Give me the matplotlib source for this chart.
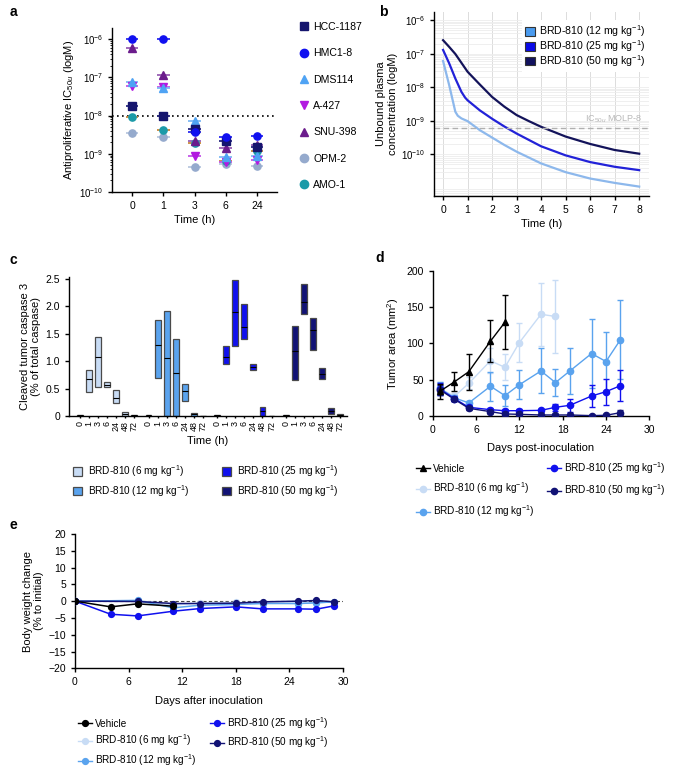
import numpy as np
import matplotlib
matplotlib.use("Agg")
import matplotlib.pyplot as plt
from matplotlib.lines import Line2D
from matplotlib.patches import Patch
from matplotlib.ticker import LogLocator, NullFormatter, FixedLocator

plt.rcParams['font.family'] = ['Liberation Sans', 'DejaVu Sans']
plt.rcParams['mathtext.fontset'] = 'custom'
plt.rcParams['mathtext.rm'] = 'Liberation Sans'
plt.rcParams['mathtext.it'] = 'Liberation Sans:italic'
plt.rcParams['mathtext.bf'] = 'Liberation Sans:bold'
plt.rcParams['font.size'] = 7.5
plt.rcParams['xtick.labelsize'] = 7.5
plt.rcParams['ytick.labelsize'] = 7.5
plt.rcParams['axes.linewidth'] = 1.0
plt.rcParams['xtick.major.width'] = 1.0
plt.rcParams['ytick.major.width'] = 1.0
plt.rcParams['xtick.major.size'] = 3
plt.rcParams['ytick.major.size'] = 3

# ---------------- Panel a data ----------------
a_times = ['0', '1', '3', '6', '24']
a_lines = ['HCC-1187', 'HMC1-8', 'DMS114', 'A-427', 'SNU-398', 'OPM-2', 'AMO-1']
a_hcc1187 = [1.8e-8, 1.0e-8, 4.5e-9, 2.2e-9, 1.5e-9]
a_hmc18 = [1.0e-6, 1.0e-6, 3.8e-9, 2.8e-9, 3.0e-9]
a_dms114 = [7.5e-8, 5.4e-8, 7.2e-9, 8.1e-10, 9.0e-10]
a_a427 = [5.8e-8, 5.5e-8, 8.9e-10, 6.0e-10, 6.7e-10]
a_snu398 = [6.0e-7, 1.15e-7, 2.2e-9, 1.4e-9, 1.65e-9]
a_opm2 = [3.4e-9, 2.7e-9, 4.4e-10, 5.5e-10, 4.7e-10]
a_amo1 = [9.1e-9, 4.3e-9, 1.9e-9, 6.5e-10, 1.15e-9]
a_threshold = 1e-8

# ---------------- Panel b data ----------------
b_t12 = [0, 0.25, 0.5, 0.6, 0.75, 1, 1.5, 2, 2.5, 3, 4, 5, 6, 7, 8]
b_log12 = [-7.22, -7.94, -8.73, -8.85, -8.93, -9.01, -9.28, -9.50, -9.72, -9.92,
           -10.27, -10.53, -10.72, -10.85, -10.96]
b_t25 = [0, 0.25, 0.5, 0.75, 0.9, 1, 1.5, 2, 2.5, 3, 4, 5, 6, 7, 8]
b_log25 = [-6.89, -7.29, -7.74, -8.14, -8.31, -8.39, -8.69, -8.94, -9.17, -9.38,
           -9.76, -10.03, -10.23, -10.37, -10.47]
b_t50 = [0, 0.25, 0.5, 1, 1.5, 2, 2.5, 3, 3.5, 4, 5, 6, 7, 8]
b_log50 = [-6.60, -6.80, -7.01, -7.54, -7.92, -8.29, -8.58, -8.83, -9.01, -9.18,
           -9.47, -9.69, -9.87, -9.98]
b_ic50_molp8 = 6.2e-10

# ---------------- Panel c data ----------------
c_times = ['0', '1', '3', '6', '24', '48', '72']
c_doses = ['BRD-810 (6 mg kg$^{-1}$)', 'BRD-810 (12 mg kg$^{-1}$)',
           'BRD-810 (25 mg kg$^{-1}$)', 'BRD-810 (50 mg kg$^{-1}$)']
c6_low = [0, 0.43, 0.53, 0.53, 0.23, 0.0, 0.0]
c6_high = [0.025, 0.83, 1.43, 0.61, 0.48, 0.08, 0.02]
c6_med = [0.012, 0.68, 1.07, 0.57, 0.32, 0.04, 0.01]
c12_low = [0, 0.70, 0.0, 0.0, 0.27, 0.0, 0.0]
c12_high = [0.025, 1.75, 1.92, 1.40, 0.59, 0.06, 0.005]
c12_med = [0.012, 1.30, 1.05, 0.79, 0.46, 0.03, 0.003]
c25_low = [0, 0.94, 1.27, 1.40, 0.84, 0.0, 0.0]
c25_high = [0.025, 1.27, 2.47, 2.04, 0.95, 0.165, 0.005]
c25_med = [0.012, 1.07, 1.90, 1.62, 0.89, 0.085, 0.003]
c50_low = [0, 0.65, 1.86, 1.20, 0.67, 0.03, 0.0]
c50_high = [0.025, 1.64, 2.40, 1.78, 0.88, 0.15, 0.035]
c50_med = [0.012, 1.18, 2.08, 1.56, 0.76, 0.09, 0.017]

# ---------------- Panel d data ----------------
d_veh_days = [1, 3, 5, 8, 10]
d_veh = [34, 47, 61, 103, 129]
d_veh_err = [10, 13, 25, 29, 37]
d6_days = [1, 3, 5, 8, 10, 12, 15, 17]
d6 = [38, 27, 45, 76, 67, 101, 140, 137]
d6_err = [9, 4, 8, 17, 18, 27, 43, 50]
d12_days = [1, 3, 5, 8, 10, 12, 15, 17, 19, 22, 24, 26]
d12 = [38, 25, 18, 41, 28, 43, 62, 46, 62, 86, 75, 105]
d12_err = [9, 4, 3, 20, 14, 20, 31, 19, 32, 47, 41, 54]
d25_days = [1, 3, 5, 8, 10, 12, 15, 17, 19, 22, 24, 26]
d25 = [37, 24, 12, 8.7, 7.3, 7.3, 7.8, 12, 14.7, 27.5, 33.5, 41.7]
d25_err = [8, 3, 2, 2, 2, 2, 2, 5, 9, 15, 18, 21]
d50_days = [1, 3, 5, 8, 10, 12, 15, 17, 19, 22, 24, 26]
d50 = [36, 23, 10.6, 6, 2.8, 2.3, 1.4, 1.4, 1.4, 0.5, 1.0, 4.6]
d50_err = [7, 3, 2, 2, 1, 1, 1, 1, 1, 1, 1, 3]

# ---------------- Panel e data ----------------
e_veh_days = [0, 4, 7, 11]
e_veh = [0, -1.7, -0.8, -1.5]
e6_days = [0, 7, 11, 14, 18, 21, 25, 27, 29]
e6 = [0, 0.2, -1.2, -0.5, -0.4, -0.5, -0.7, -0.5, -0.2]
e12_days = [0, 7, 11, 14, 18, 21, 25, 27, 29]
e12 = [0, 0.2, -2.0, -1.2, -1.0, -0.7, -0.7, -0.5, -0.2]
e25_days = [0, 4, 7, 11, 14, 18, 21, 25, 27, 29]
e25 = [0, -3.9, -4.4, -3.0, -2.2, -1.7, -2.3, -2.3, -2.4, -1.4]
e50_days = [0, 7, 11, 14, 18, 21, 25, 27, 29]
e50 = [0, -0.1, -0.7, -0.7, -0.6, -0.2, 0.0, 0.2, -0.2]

# colors
col_hcc = '#15156e'
col_hmc = '#1010f0'
col_dms = '#4fa3f4'
col_a427 = '#b21ae0'
col_snu = '#6b1c8c'
col_opm = '#95aacd'
col_amo = '#1b9aa8'
col6 = '#c8dcf5'
col12 = '#5aa3ee'
col25 = '#1010ee'
col50 = '#111275'

W, H = 679, 772
fig = plt.figure(figsize=(W / 100, H / 100), dpi=100)
LAB = 8
LEG = 7.2


def ax_px(l, t, r, b):
    return fig.add_axes([l / W, 1 - b / H, (r - l) / W, (b - t) / H])


def clean(ax):
    ax.spines['top'].set_visible(False)
    ax.spines['right'].set_visible(False)


# ================= Panel a =================
axa = ax_px(112, 28, 277, 192)
clean(axa)
axa.set_yscale('log')
series_a = [a_hcc1187, a_hmc18, a_dms114, a_a427, a_snu398, a_opm2, a_amo1]
cols_a = [col_hcc, col_hmc, col_dms, col_a427, col_snu, col_opm, col_amo]
linecols_a = ['#2a2a80', '#2b2bf0', '#7fbaf4', '#c455e8', '#9a60b4', '#b9c7de', '#c9893c']
marks_a = ['s', 'o', '^', 'v', '^', 'o', 'o']
xs = np.arange(len(a_times))
draw_order = [5, 6, 3, 2, 4, 0, 1]
for i in draw_order:
    axa.hlines(series_a[i], xs - 0.2, xs + 0.2, color=linecols_a[i], lw=1.3, zorder=2)
for i in draw_order:
    axa.plot(xs, series_a[i], ls='none', marker=marks_a[i], color=cols_a[i],
             ms=5.2, zorder=3)
axa.axhline(a_threshold, color='black', ls=(0, (1, 2)), lw=1.2, zorder=1)
axa.set_ylim(1e-10, 10 ** -5.71)
axa.set_xlim(-0.65, 4.65)
axa.set_xticks(xs)
axa.set_xticklabels(a_times)
axa.yaxis.set_major_locator(FixedLocator([1e-10, 1e-9, 1e-8, 1e-7, 1e-6]))
axa.yaxis.set_minor_locator(LogLocator(base=10, subs=np.arange(2, 10)))
axa.yaxis.set_minor_formatter(NullFormatter())
axa.tick_params(axis='y', which='minor', length=1.5, width=0.6)
axa.tick_params(axis='y', labelsize=7)
axa.set_xlabel('Time (h)', fontsize=LAB, labelpad=3)
axa.set_ylabel('Antiproliferative IC$_{50u}$ (logM)', fontsize=LAB, labelpad=2)
handles_a = [Line2D([], [], ls='none', marker=marks_a[i], color=cols_a[i], ms=6)
             for i in range(7)]
fig.legend(handles_a, a_lines, loc='upper left', bbox_to_anchor=(299 / W, 1 - 22 / H),
           frameon=False, fontsize=7.6, labelspacing=1.55, handlelength=1.0,
           handletextpad=0.35, borderaxespad=0, borderpad=0)

# ================= Panel b =================
axb = ax_px(434, 12, 649, 196)
clean(axb)
axb.set_yscale('log')
axb.set_xlim(-0.37, 8.4)
axb.set_ylim(10 ** -11.24, 10 ** -5.76)
axb.set_xticks(range(0, 9))
axb.yaxis.set_major_locator(FixedLocator([1e-10, 1e-9, 1e-8, 1e-7, 1e-6]))
axb.yaxis.set_minor_locator(LogLocator(base=10, subs=np.arange(2, 10)))
axb.yaxis.set_minor_formatter(NullFormatter())
axb.tick_params(axis='y', which='minor', length=0)
axb.tick_params(axis='y', labelsize=7)
axb.grid(True, which='major', axis='x', color='#dcdcdc', lw=0.7)
axb.grid(True, which='both', axis='y', color='#ececec', lw=0.6)
axb.set_axisbelow(True)
axb.plot(b_t12, 10 ** np.array(b_log12), color='#8db8ec', lw=1.6)
axb.plot(b_t25, 10 ** np.array(b_log25), color='#2222d8', lw=1.6)
axb.plot(b_t50, 10 ** np.array(b_log50), color='#13135a', lw=1.6)
axb.axhline(b_ic50_molp8, color='#b0b0b0', ls=(0, (4, 2.5)), lw=1.0)
axb.text(8.15, b_ic50_molp8 * 1.25, 'IC$_{50u}$ MOLP-8', color='#b8b8b8', fontsize=6.5,
         ha='right', va='bottom')
axb.set_xlabel('Time (h)', fontsize=LAB, labelpad=3)
axb.set_ylabel('Unbound plasma\nconcentration (logM)', fontsize=LAB, labelpad=2)
hb = [Patch(facecolor='#4a9bef', edgecolor='#333333', lw=0.8),
      Patch(facecolor='#0a0ae8', edgecolor='#333333', lw=0.8),
      Patch(facecolor='#12125e', edgecolor='#333333', lw=0.8)]
lb = axb.legend(hb, ['BRD-810 (12 mg kg$^{-1}$)', 'BRD-810 (25 mg kg$^{-1}$)',
                     'BRD-810 (50 mg kg$^{-1}$)'],
                loc='upper right', bbox_to_anchor=(1.0, 0.955), fontsize=7.6,
                frameon=True, fancybox=False, framealpha=1, edgecolor='none',
                handlelength=0.9, handleheight=0.9, handletextpad=0.45,
                labelspacing=-0.1, borderpad=0.3, borderaxespad=0.0)

# ================= Panel c =================
axc = ax_px(69, 277, 347, 416)
clean(axc)
groups = [(c6_low, c6_high, c6_med, col6), (c12_low, c12_high, c12_med, col12),
          (c25_low, c25_high, c25_med, col25), (c50_low, c50_high, c50_med, col50)]
all_pos = []
all_lab = []
bw = 0.65
for g, (lo, hi, me, col) in enumerate(groups):
    pos = g * 7.6 + np.arange(len(c_times))
    lo = np.array(lo)
    hi = np.array(hi)
    axc.bar(pos, hi - lo, bottom=lo, width=bw, color=col, edgecolor='#4a4a4a', lw=0.9,
            zorder=2)
    axc.hlines(me, pos - bw / 2, pos + bw / 2, color='black', lw=0.8, zorder=3)
    all_pos.extend(pos)
    all_lab.extend(c_times)
axc.set_xticks(all_pos)
axc.set_xticklabels(all_lab, rotation=90, fontsize=6.4)
axc.tick_params(axis='x', length=1.5, pad=2)
axc.set_xlim(-1.2, 29.55)
axc.set_ylim(0, 2.53)
axc.set_yticks([0, 0.5, 1.0, 1.5, 2.0, 2.5])
axc.set_yticklabels(['0', '0.5', '1.0', '1.5', '2.0', '2.5'])
axc.set_xlabel('Time (h)', fontsize=LAB, labelpad=4)
axc.set_ylabel('Cleaved tumor caspase 3\n(% of total caspase)', fontsize=LAB, labelpad=3)
hc = [Patch(facecolor=c[3], edgecolor='#4a4a4a', lw=0.9) for c in groups]
fig.legend(hc, c_doses, loc='upper left', bbox_to_anchor=(73 / W, 1 - 463 / H), ncol=2,
           frameon=False, fontsize=LEG, handlelength=0.9, handleheight=0.9,
           handletextpad=0.6, labelspacing=0.4, columnspacing=3.2, borderpad=0,
           borderaxespad=0)

# ================= Panel d =================
axd = ax_px(432.7, 270.7, 649.3, 416)
clean(axd)
ekw = dict(capsize=2.2, elinewidth=1.0, capthick=1.0, lw=1.0)
axd.errorbar(d6_days, d6, yerr=d6_err, color=col6, marker='o', ms=4.5, zorder=2, **ekw)
axd.errorbar(d12_days, d12, yerr=d12_err, color=col12, marker='o', ms=4.5, zorder=3, **ekw)
axd.errorbar(d25_days, d25, yerr=d25_err, color=col25, marker='o', ms=4.5, zorder=4, **ekw)
axd.errorbar(d50_days, d50, yerr=d50_err, color=col50, marker='o', ms=4.5, zorder=5, **ekw)
axd.errorbar(d_veh_days, d_veh, yerr=d_veh_err, color='black', marker='^', ms=5, zorder=6,
             **ekw)
axd.set_xlim(0, 30)
axd.set_ylim(0, 200)
axd.set_xticks([0, 6, 12, 18, 24, 30])
axd.set_yticks([0, 50, 100, 150, 200])
axd.set_xlabel('Days post-inoculation', fontsize=LAB, labelpad=6)
axd.set_ylabel('Tumor area (mm$^2$)', fontsize=LAB, labelpad=4)
hd = [Line2D([], [], color='black', marker='^', ms=5, lw=1),
      Line2D([], [], color=col6, marker='o', ms=4.5, lw=1),
      Line2D([], [], color=col12, marker='o', ms=4.5, lw=1),
      Line2D([], [], color=col25, marker='o', ms=4.5, lw=1),
      Line2D([], [], color=col50, marker='o', ms=4.5, lw=1)]
ld = ['Vehicle'] + c_doses
fig.legend(hd, ld, loc='upper left', bbox_to_anchor=(416 / W, 1 - 460 / H), ncol=2,
           frameon=False, fontsize=LEG, handlelength=1.4, handletextpad=0.3,
           labelspacing=0.68, columnspacing=1.2, borderpad=0, borderaxespad=0)

# ================= Panel e =================
axe = ax_px(75, 534, 343, 668.3)
clean(axe)
axe.axhline(0, color='#444444', ls=(0, (3, 2)), lw=0.8, zorder=1)
mk = dict(marker='o', ms=4.2, lw=1.1)
axe.plot(e6_days, e6, color=col6, zorder=2, **mk)
axe.plot(e12_days, e12, color=col12, zorder=3, **mk)
axe.plot(e25_days, e25, color=col25, zorder=4, **mk)
axe.plot(e50_days, e50, color=col50, zorder=5, **mk)
axe.plot(e_veh_days, e_veh, color='black', zorder=6, **mk)
axe.set_xlim(0, 30)
axe.set_ylim(-20, 20)
axe.set_xticks([0, 6, 12, 18, 24, 30])
axe.set_yticks(np.arange(-20, 21, 5))
axe.set_xlabel('Days after inoculation', fontsize=LAB, labelpad=6)
axe.set_ylabel('Body weight change\n(% to initial)', fontsize=LAB, labelpad=3)
he = [Line2D([], [], color='black', marker='o', ms=4.2, lw=1),
      Line2D([], [], color=col6, marker='o', ms=4.2, lw=1),
      Line2D([], [], color=col12, marker='o', ms=4.2, lw=1),
      Line2D([], [], color=col25, marker='o', ms=4.2, lw=1),
      Line2D([], [], color=col50, marker='o', ms=4.2, lw=1)]
fig.legend(he, ld, loc='upper left', bbox_to_anchor=(78 / W, 1 - 715 / H), ncol=2,
           frameon=False, fontsize=LEG, handlelength=1.4, handletextpad=0.3,
           labelspacing=0.38, columnspacing=1.3, borderpad=0, borderaxespad=0)

# panel letters
for lab, x, y in [('a', 10, 12), ('b', 379, 12), ('c', 10, 260), ('d', 375, 258),
                  ('e', 10, 525)]:
    fig.text(x / W, 1 - y / H, lab, fontsize=10, fontweight='bold', va='center', ha='left')

fig.savefig('out.png', dpi=100)
